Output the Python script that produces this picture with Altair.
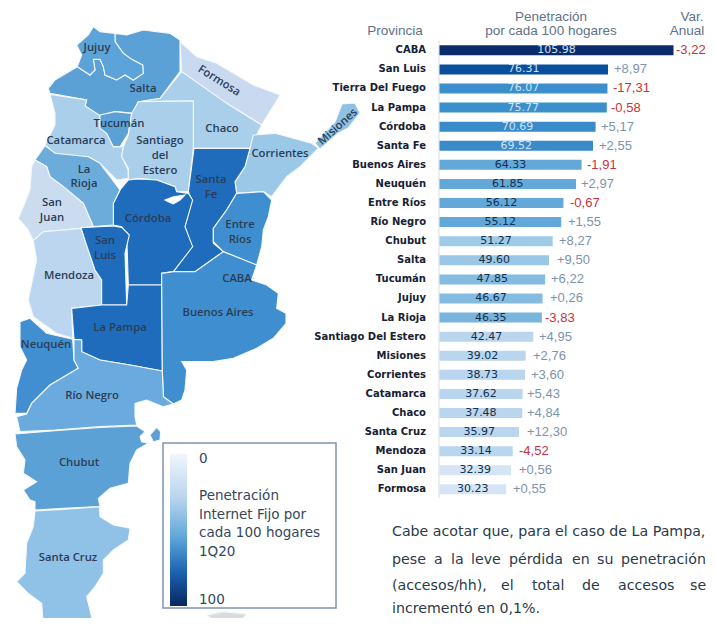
import altair as alt
import pandas as pd

# ---- chart values ----
PROVINCES = ["CABA","San Luis","Tierra Del Fuego","La Pampa","Córdoba","Santa Fe","Buenos Aires","Neuquén",
             "Entre Ríos","Río Negro","Chubut","Salta","Tucumán","Jujuy","La Rioja","Santiago Del Estero",
             "Misiones","Corrientes","Catamarca","Chaco","Santa Cruz","Mendoza","San Juan","Formosa"]
PENETRATION = [105.98,76.31,76.07,75.77,70.69,69.52,64.33,61.85,56.12,55.12,51.27,49.60,47.85,46.67,46.35,
               42.47,39.02,38.73,37.62,37.48,35.97,33.14,32.39,30.23]
VAR_LABELS = ["-3,22","+8,97","-17,31","-0,58","+5,17","+2,55","-1,91","+2,97","-0,67","+1,55","+8,27","+9,50",
              "+6,22","+0,26","-3,83","+4,95","+2,76","+3,60","+5,43","+4,84","+12,30","-4,52","+0,56","+0,55"]
BAR_COLORS = ["#0b2c6b","#0a4f9e","#3b8fcb","#3b8fcb","#3a8bca","#3a8bca","#62a8d9","#62a8d9","#62a8d9","#62a8d9",
              "#9ecbe8","#9ac7e6","#84bbe0","#84bbe0","#78b4dc","#b9d6ee","#b9d6ee","#b9d6ee","#b9d6ee","#b9d6ee",
              "#b9d6ee","#b9d6ee","#d6e5f5","#d6e5f5"]
VAR_LEFT = [676,614,613,611,601,599,587,581,570,568,559,557,551,550,545,539,533,531,527,527,527,519,519,513]

# map shapes in (px, px); colour per province
c1 = lambda pts: [(x/3, y/3) for x, y in pts]
c2 = lambda pts: [(x/3, 310 + y/3) for x, y in pts]
MAP = [
 ("Formosa","#c9daf0",c1([(540,125),(590,170),(650,190),(760,255),(840,285),(785,375),(680,310),(545,215)])),
 ("Chaco","#a9cfeb",c1([(545,215),(680,310),(785,375),(750,445),(580,445),(580,303),(415,305),(480,295)])),
 ("Salta","#5ba1d6",c1([(345,100),(380,105),(430,90),(510,100),(540,120),(540,215),(480,295),(415,305),(400,340),(345,335),(300,350),(255,318),(260,300),(150,280),(145,265),(165,240),(232,200),(270,225),(285,210),(280,178),(300,178),(310,200),(315,225),(350,240),(375,225),(400,240),(430,220),(428,195),(395,178),(370,160),(345,125)])),
 ("Jujuy","#5ba3d8",c1([(280,80),(300,95),(345,100),(345,125),(370,160),(395,178),(428,195),(430,220),(400,240),(375,225),(350,240),(315,225),(310,200),(300,178),(280,178),(285,210),(270,225),(232,200),(245,165),(230,135),(265,105)])),
 ("Catamarca","#a9cfeb",c1([(150,283),(260,300),(255,318),(298,345),(300,385),(320,400),(340,440),(370,440),(365,470),(385,510),(385,535),(350,540),(300,490),(265,470),(220,470),(165,460),(135,435),(165,375),(165,340)])),
 ("Tucumán","#5ba1d6",c1([(300,345),(345,335),(395,340),(385,400),(360,440),(340,440),(320,400),(300,385)])),
 ("Santiago","#a9cfeb",c1([(415,305),(580,303),(580,445),(565,575),(530,575),(525,560),(470,540),(415,535),(385,540),(385,505),(365,470),(370,440),(385,405),(395,340)])),
 ("Corrientes","#9cc8e8",c1([(760,405),(825,400),(935,430),(955,445),(900,500),(860,530),(815,590),(790,575),(710,580),(705,545),(735,500),(750,445)])),
 ("Misiones","#8fc1e5",[(315,143),(335,122),(342,104),(355,103),(360,113),(348,128),(337,134),(327,143),(320,149)]),
 ("Santa Fe","#1f6cbd",c1([(582,445),(750,445),(735,500),(705,545),(710,580),(680,630),(640,685),(640,730),(670,755),(585,815),(520,815),(575,740),(555,680),(575,600),(565,575)])),
 ("Entre Ríos","#3f8fd0",c1([(710,580),(790,575),(815,600),(805,650),(790,690),(785,740),(770,795),(720,775),(670,755),(640,725),(640,685),(680,630)])),
 ("Córdoba","#1f6cbd",c1([(415,537),(470,540),(525,560),(530,575),(565,580),(578,600),(555,680),(578,740),(520,815),(485,820),(485,855),(385,855),(380,700),(365,680),(340,675),(340,610),(360,570),(385,540)])),
 ("La Rioja","#6bacdb",c1([(105,480),(135,437),(165,460),(265,470),(300,490),(360,570),(340,610),(340,675),(280,680),(250,610),(190,560),(150,530),(140,500)])),
 ("San Juan","#cbdcf0",c1([(105,480),(140,500),(150,530),(190,560),(250,610),(280,680),(243,685),(190,690),(130,695),(100,722),(85,690),(55,655),(70,620),(90,570),(95,500)])),
 ("Mendoza","#bcd6ef",c1([(100,722),(130,695),(190,690),(243,685),(258,730),(285,810),(305,840),(305,915),(215,925),(218,1015),(170,1000),(100,950),(85,900),(95,850),(110,780)])),
 ("San Luis","#1f6cbd",c1([(243,683),(340,678),(365,682),(388,705),(375,760),(380,915),(305,915),(305,840),(285,810),(258,730)])),
 ("La Pampa","#1f6cbd",c1([(385,855),(485,855),(487,1113),(390,1095),(300,1080),(245,1055),(245,1020),(222,1018),(215,925),(305,915),(380,915)])),
 ("Buenos Aires","#3f8fd0",c1([(485,820),(520,815),(585,815),(670,755),(770,795),(755,840),(800,855),(835,880),(830,925),(858,940),(858,970),(820,1015),(770,1045),(700,1075),(640,1085),(545,1085),(560,1110),(555,1170),(545,1200),(520,1212),(490,1190),(487,1113)])),
 ("Neuquén","#418fd0",c2([(60,35),(90,25),(140,70),(218,88),(222,150),(235,175),(150,225),(95,280),(80,310),(45,310),(50,235),(65,180),(80,150),(60,110)])),
 ("Río Negro","#6aaade",c2([(222,88),(245,90),(245,125),(300,150),(390,165),(487,183),(490,260),(520,282),(490,290),(440,270),(405,280),(405,320),(410,345),(300,350),(165,360),(60,365),(50,320),(80,312),(95,280),(150,225),(235,175),(222,150)])),
 ("Chubut","#5ba1d6",c2([(45,372),(165,362),(300,352),(410,348),(435,365),(420,380),(425,395),(445,400),(410,420),(390,460),(385,520),(330,535),(295,565),(300,590),(190,595),(105,600),(105,575),(90,570),(70,540),(110,515),(70,490),(75,450),(50,410)])),
 ("Valdés","#5ba1d6",c2([(450,375),(470,352),(482,365),(480,390),(460,395)])),
 ("Santa Cruz","#90c1e6",c2([(105,603),(190,598),(298,590),(300,620),(340,645),(390,655),(385,690),(340,720),(310,750),(310,790),(285,830),(260,860),(270,900),(280,948),(130,948),(125,880),(85,850),(50,815),(75,790),(80,700),(100,650)])),
 ("Lago","#ffffff",c1([(495,600),(520,590),(555,585),(540,600),(520,612),(505,605)])),
 ("CABA","#0b2c6b",[(252.5,278),(254,278),(254,279.5),(252.5,279.5)]),
 ("Malvinas","#d9dde2",c2([(620,915),(670,905),(740,912),(720,935),(660,945)])),
]

MAP_LABELS = [("Jujuy",97,48,0),("Salta",143,89,0),("Formosa",219,81,32),("Tucumán",119,124,0),("Chaco",222,129,0),
  ("Misiones",338,127,-42),("Catamarca",76,141,0),("Santiago",160,141,0),("del",160,156,0),("Estero",160,171,0),
  ("Corrientes",280,154,0),("La",84,170,0),("Rioja",84,184,0),("Santa",211,180,0),("Fe",211,195,0),
  ("San",52,203,0),("Juan",52,218,0),("Córdoba",148,219,0),("Entre",240,225,0),("Ríos",240,240,0),
  ("San",105,241,0),("Luis",105,256,0),("Mendoza",69,276,0),("CABA",237,279,0),("Buenos Aires",218,313,0),
  ("La Pampa",120,328,0),("Neuquén",46,345,0),("Río Negro",92,396,0),("Chubut",79,463,0),("Santa Cruz",68,558,0)]

LEGEND_TEXT = [("0",199,459),("Penetración",199,496),("Internet Fijo por",199,515),("cada 100 hogares",199,533),
               ("1Q20",199,552),("100",199,600)]
HEADERS = [("Provincia",395,31),("Penetración",551,17),("por cada 100 hogares",551,31),("Var.",692,17),("Anual",687,31)]
PARAGRAPH = [("Cabe acotar que, para el caso de La Pampa,",392,532),
  ("pese",392,560),("a",434,560),("la",451,560),("leve",471,560),("pérdida",509,560),("en",572,560),("su",597,560),("penetración",621,560),
  ("(accesos/hh),",392,586),("el",501,586),("total",532,586),("de",582,586),("accesos",618,586),("se",690,586),
  ("incrementó en 0,1%.",392,609)]

# ---- layout ----
OX, OY = 8, 8
W, H = 699, 610
X_ZERO, PX_PER_UNIT = 439.5 - OX, 2.208
ROW_TOP, ROW_STEP = 50.3 - OY - 19.09/2, 19.09

row_df = pd.DataFrame({"prov": PROVINCES, "val": PENETRATION, "var": VAR_LABELS, "color": BAR_COLORS,
                       "left": [v - OX for v in VAR_LEFT],
                       "varcolor": ["#c8323c" if s.startswith("-") else "#7d93ab" for s in VAR_LABELS],
                       "valcolor": ["#cfe2f3"]*6 + ["#12304f"]*18})
row_df["label"] = row_df["val"].map(lambda v: f"{v:.2f}")

xval = alt.X("val:Q", axis=None, scale=alt.Scale(domain=[0, 100], range=[X_ZERO, X_ZERO + 100*PX_PER_UNIT]))
yrow = alt.Y("prov:N", axis=None, scale=alt.Scale(type="band", domain=PROVINCES, paddingInner=0, paddingOuter=0,
                                                   range=[ROW_TOP, ROW_TOP + ROW_STEP*len(PROVINCES)]))
px = alt.X("x:Q", axis=None, scale=None)
py = alt.Y("y:Q", axis=None, scale=None)

def table(rows, cols):
    df = pd.DataFrame(rows, columns=cols)
    df["x"] = df["x"] - OX
    df["y"] = df["y"] - OY
    return df

features = [{"type": "Feature", "properties": {"color": c, "name": n},
             "geometry": {"type": "Polygon", "coordinates": [[list(p) for p in pts] + [list(pts[0])]]}}
            for n, c, pts in MAP]
geo = alt.Chart(alt.InlineData(values={"type": "FeatureCollection", "features": features},
                               format=alt.DataFormat(property="features", type="json"))
    ).mark_geoshape(stroke="#f4f8fc", strokeWidth=1.1
    ).encode(color=alt.Color("properties.color:N", scale=None)
    ).project(type="identity", scale=1, translate=[-OX, -OY])

map_df = table(MAP_LABELS, ["t","x","y","a"])
map_layers = [alt.Chart(map_df[map_df.a == a]).mark_text(font="Open Sans", fontSize=11.3, fontWeight=600, color="#2b3d55",
                 baseline="middle", angle=(a % 360)).encode(x=px, y=py, text="t:N") for a in sorted(map_df.a.unique())]

box = alt.Chart(pd.DataFrame({"x":[163-OX],"x2":[336-OX],"y":[443-OY],"y2":[608-OY]})).mark_rect(
    fill="white", stroke="#7d92b6", strokeWidth=1.5).encode(x=px, x2="x2:Q", y=py, y2="y2:Q")
grad = alt.Chart(pd.DataFrame({"x":[170-OX],"x2":[187-OX],"y":[454-OY],"y2":[606-OY]})).mark_rect(
    color=alt.Gradient(gradient="linear", x1=0, x2=0, y1=0, y2=1, stops=[
        alt.GradientStop(offset=0, color="#f2f6fc"), alt.GradientStop(offset=0.3, color="#b5d3ee"),
        alt.GradientStop(offset=0.55, color="#5ea6d8"), alt.GradientStop(offset=0.78, color="#1a62b0"),
        alt.GradientStop(offset=1, color="#08275f")])
    ).encode(x=px, x2="x2:Q", y=py, y2="y2:Q")
legend_text = alt.Chart(table(LEGEND_TEXT, ["t","x","y"])).mark_text(font="DejaVu Sans", fontSize=13.5, color="#33475c",
    align="left", baseline="middle").encode(x=px, y=py, text="t:N")

axis_line = alt.Chart(pd.DataFrame({"x":[439-OX],"y":[41-OY],"y2":[498-OY]})).mark_rule(color="#dde3ea", strokeWidth=1.2).encode(
    x=px, y=py, y2="y2:Q")
bars = alt.Chart(row_df).mark_bar(height=10).encode(
    x=xval, y=yrow, color=alt.Color("color:N", scale=None))
val_text = alt.Chart(row_df).transform_calculate(mid="datum.val/2").mark_text(font="DejaVu Sans", fontSize=11, baseline="middle").encode(
    x=alt.X("mid:Q", axis=None, scale=alt.Scale(domain=[0, 100], range=[X_ZERO, X_ZERO + 100*PX_PER_UNIT])),
    y=yrow, text="label:N", color=alt.Color("valcolor:N", scale=None))
prov_text = alt.Chart(row_df).transform_calculate(x=str(426-OX)).mark_text(font="DejaVu Sans", fontWeight="bold", fontSize=10,
    color="#172033", align="right", baseline="middle").encode(x=px, y=yrow, text="prov:N")
var_text = alt.Chart(row_df).mark_text(font="Liberation Sans", fontSize=13, align="left", baseline="middle").encode(
    x=alt.X("left:Q", axis=None, scale=None), y=yrow, text="var:N", color=alt.Color("varcolor:N", scale=None))

hdr = alt.Chart(table(HEADERS, ["t","x","y"])).mark_text(font="Liberation Sans", fontSize=13.5, color="#5e728a",
    align="center", baseline="middle").encode(x=px, y=py, text="t:N")
para = alt.Chart(table(PARAGRAPH, ["t","x","y"])).mark_text(font="DejaVu Sans", fontSize=14.2, color="#2a3a4a",
    align="left", baseline="middle").encode(x=px, y=py, text="t:N")

chart = alt.layer(geo, *map_layers, box, grad, legend_text, axis_line, bars, val_text, prov_text, var_text, hdr, para
    ).resolve_scale(x="independent", y="independent", color="independent"
    ).properties(width=W, height=H, padding=0, autosize=alt.AutoSizeParams(type="none"), background="white"
    ).configure_view(stroke=None)

chart.save("out.html", embed_options={"renderer": "svg", "actions": False})
